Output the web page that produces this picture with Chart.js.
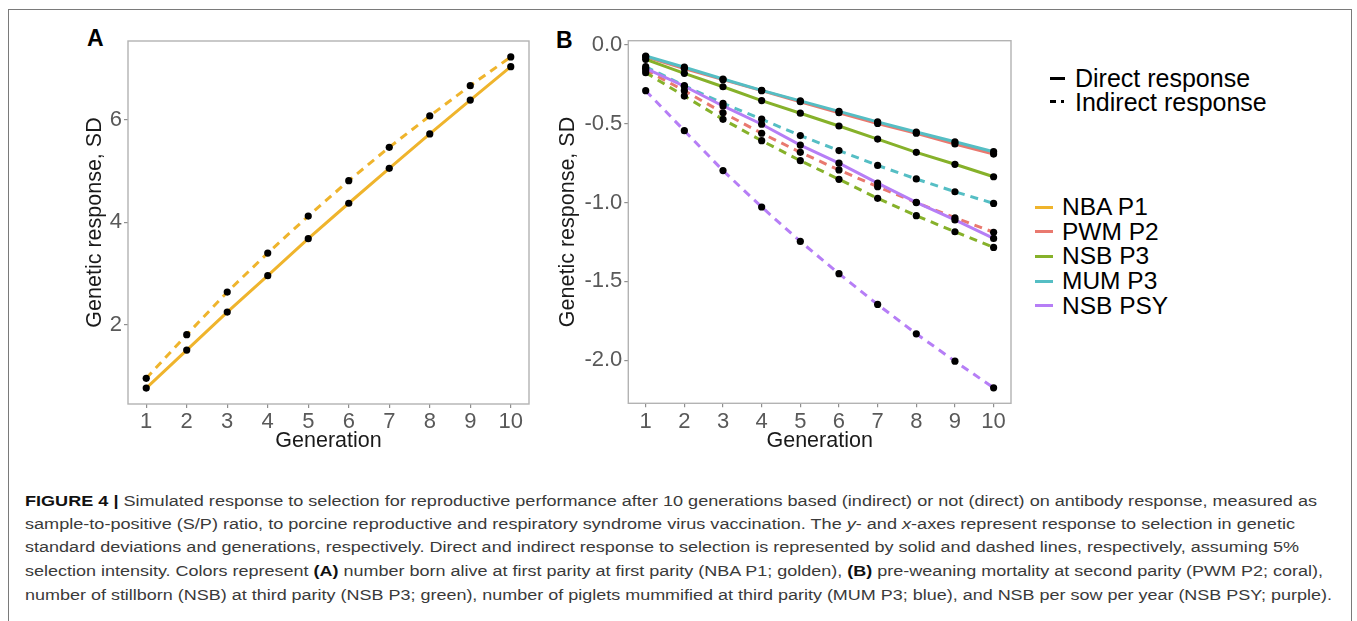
<!DOCTYPE html>
<html>
<head>
<meta charset="utf-8">
<script src="https://cdn.jsdelivr.net/npm/chart.js@4.4.0/dist/chart.umd.min.js"></script>
<style>
  html, body { margin: 0; padding: 0; background: #fff; }
  body { width: 1357px; height: 621px; overflow: hidden; position: relative;
         font-family: "Liberation Sans", Arial, Helvetica, sans-serif; }
  #frame { position: absolute; left: 8px; top: 9px; width: 1344px; height: 660px;
           border: 1px solid #7a7a7a; box-sizing: border-box; }
  canvas { position: absolute; }
  .plabel { position: absolute; font-weight: bold; font-size: 23px; line-height: 26px; color: #000; }
  .lt { position: absolute; font-size: 25px; line-height: 26px; color: #000; white-space: nowrap; }
  .lc { position: absolute; font-size: 24.5px; line-height: 26px; color: #000; white-space: nowrap; }
  .sw { position: absolute; height: 3px; }
  .cap { position: absolute; left: 25px; font-size: 15.5px; line-height: 20px; color: #3a3a3a;
         white-space: nowrap; transform-origin: 0 50%; }
  .cap b { color: #111; }
</style>
</head>
<body>
<div id="frame"></div>

<div class="plabel" style="left:87px; top:25px;">A</div>
<div class="plabel" style="left:556px; top:27px;">B</div>

<canvas id="chartA" width="540" height="470" style="left:0px; top:0px;"></canvas>
<canvas id="chartB" width="490" height="470" style="left:540px; top:0px;"></canvas>

<div id="legendType"></div>
<div id="legendColor"></div>

<div class="cap" data-w="1292" style="top:491px;"><b>FIGURE 4 |</b> Simulated response to selection for reproductive performance after 10 generations based (indirect) or not (direct) on antibody response, measured as</div>
<div class="cap" data-w="1270" style="top:514px;">sample-to-positive (S/P) ratio, to porcine reproductive and respiratory syndrome virus vaccination. The <i>y</i>- and <i>x</i>-axes represent response to selection in genetic</div>
<div class="cap" data-w="1274" style="top:537px;">standard deviations and generations, respectively. Direct and indirect response to selection is represented by solid and dashed lines, respectively, assuming 5%</div>
<div class="cap" data-w="1298" style="top:561px;">selection intensity. Colors represent <b>(A)</b> number born alive at first parity at first parity (NBA P1; golden), <b>(B)</b> pre-weaning mortality at second parity (PWM P2; coral),</div>
<div class="cap" data-w="1307" style="top:585px;">number of stillborn (NSB) at third parity (NSB P3; green), number of piglets mummified at third parity (MUM P3; blue), and NSB per sow per year (NSB PSY; purple).</div>

<script>
// ---------------- DATA ----------------
const generations = [1, 2, 3, 4, 5, 6, 7, 8, 9, 10];

// Panel A
const nbaP1Direct   = [0.77, 1.51, 2.25, 2.96, 3.68, 4.37, 5.05, 5.72, 6.38, 7.03];
const nbaP1Indirect = [0.96, 1.81, 2.64, 3.40, 4.12, 4.81, 5.46, 6.07, 6.66, 7.22];

// Panel B
const pwmP2Direct    = [-0.075, -0.150, -0.220, -0.290, -0.360, -0.430, -0.498, -0.560, -0.628, -0.692];
const pwmP2Indirect  = [-0.159, -0.290, -0.430, -0.560, -0.681, -0.793, -0.899, -1.000, -1.096, -1.188];
const nsbP3Direct    = [-0.091, -0.180, -0.265, -0.353, -0.433, -0.514, -0.597, -0.681, -0.757, -0.836];
const nsbP3Indirect  = [-0.176, -0.324, -0.472, -0.607, -0.734, -0.852, -0.973, -1.083, -1.185, -1.284];
const mumP3Direct    = [-0.070, -0.141, -0.216, -0.288, -0.355, -0.421, -0.488, -0.552, -0.614, -0.677];
const mumP3Indirect  = [-0.138, -0.258, -0.370, -0.471, -0.575, -0.670, -0.764, -0.850, -0.931, -1.005];
const nsbPsyDirect   = [-0.148, -0.262, -0.387, -0.503, -0.635, -0.750, -0.876, -0.998, -1.110, -1.227];
const nsbPsyIndirect = [-0.290, -0.544, -0.797, -1.028, -1.246, -1.451, -1.646, -1.832, -2.006, -2.175];

// Ticks
const xTicks  = [1, 2, 3, 4, 5, 6, 7, 8, 9, 10];
const yTicksA = [2, 4, 6];
const yTicksB = [0, -0.5, -1.0, -1.5, -2.0];

// Legend labels
const traitLabels = ['NBA P1', 'PWM P2', 'NSB P3', 'MUM P3', 'NSB PSY'];
const responseLabels = ['Direct response', 'Indirect response'];

// ---------------- STYLE ----------------
const COLORS = {
  'NBA P1': '#EFB42C',
  'PWM P2': '#E9796F',
  'NSB P3': '#86B12A',
  'MUM P3': '#55BEC4',
  'NSB PSY': '#B67EF6'
};
const FONT = '"Liberation Sans", Arial, Helvetica, sans-serif';
Chart.defaults.font.family = FONT;

function pts(arr) { return generations.map((g, i) => ({ x: g, y: arr[i] })); }

const panelBorder = {
  id: 'panelBorder',
  afterDraw(chart) {
    const { ctx, chartArea: a } = chart;
    ctx.save();
    ctx.strokeStyle = '#b3b3b3';
    ctx.lineWidth = 1.4;
    ctx.strokeRect(a.left, a.top, a.right - a.left, a.bottom - a.top);
    ctx.restore();
  }
};

function buildDatasets(series) {
  const ds = [];
  series.forEach((s, k) => {
    ds.push({
      data: pts(s.data),
      borderColor: COLORS[s.name],
      borderWidth: 3,
      borderDash: s.dashed ? [8, 6] : [],
      borderCapStyle: 'butt',
      pointRadius: 0,
      fill: false,
      tension: 0,
      order: 100 - k
    });
  });
  series.forEach((s) => {
    ds.push({
      data: pts(s.data),
      showLine: false,
      pointRadius: 3.6,
      pointBorderWidth: 0,
      pointBackgroundColor: '#000',
      pointBorderColor: '#000',
      order: 0
    });
  });
  return ds;
}

function makeOptions(geom, yMin, yMax, yTicks, yFmt) {
  const TITLE = 21.5;
  const half = TITLE * 1.2 / 2;
  const padLeft = geom.yTitleX - half;
  const padBottom = geom.h - geom.xTitleY - half;
  return {
    responsive: false,
    animation: false,
    events: [],
    layout: { padding: { left: padLeft, top: geom.top, right: geom.w - geom.right, bottom: padBottom } },
    plugins: { legend: { display: false }, tooltip: { enabled: false } },
    scales: {
      x: {
        type: 'linear', min: 0.55, max: 10.45,
        afterBuildTicks: (s) => { s.ticks = xTicks.map(v => ({ value: v })); },
        afterFit: (s) => { s.height = geom.h - padBottom - geom.bottom; },
        ticks: { font: { size: 22 }, color: '#595959', padding: 1, autoSkip: false, maxRotation: 0,
                 callback: (v) => String(v) },
        grid: { drawOnChartArea: false, drawTicks: true, tickLength: 4, color: '#8f8f8f', lineWidth: 1.2 },
        border: { display: false },
        title: { display: true, text: 'Generation', font: { size: TITLE }, color: '#1a1a1a',
                 padding: { top: 0, bottom: 0 } }
      },
      y: {
        type: 'linear', min: yMin, max: yMax,
        afterBuildTicks: (s) => { s.ticks = yTicks.map(v => ({ value: v })); },
        afterFit: (s) => { s.width = geom.left - padLeft; },
        ticks: { font: { size: 22 }, color: '#595959', padding: 2, callback: yFmt },
        grid: { drawOnChartArea: false, drawTicks: true, tickLength: 4, color: '#8f8f8f', lineWidth: 1.2 },
        border: { display: false },
        title: { display: true, text: 'Genetic response, SD', font: { size: TITLE }, color: '#1a1a1a',
                 padding: { top: 0, bottom: 0 } }
      }
    }
  };
}

// Panel A
new Chart(document.getElementById('chartA'), {
  type: 'line',
  data: {
    datasets: buildDatasets([
      { name: 'NBA P1', data: nbaP1Direct, dashed: false },
      { name: 'NBA P1', data: nbaP1Indirect, dashed: true }
    ])
  },
  options: makeOptions({ w: 540, h: 470, left: 128, top: 41, right: 529, bottom: 404, yTitleX: 95, xTitleY: 441 },
                       0.46, 7.53, yTicksA, (v) => String(v)),
  plugins: [panelBorder]
});

// Panel B
new Chart(document.getElementById('chartB'), {
  type: 'line',
  data: {
    datasets: buildDatasets([
      { name: 'PWM P2', data: pwmP2Direct, dashed: false },
      { name: 'PWM P2', data: pwmP2Indirect, dashed: true },
      { name: 'NSB P3', data: nsbP3Direct, dashed: false },
      { name: 'NSB P3', data: nsbP3Indirect, dashed: true },
      { name: 'MUM P3', data: mumP3Direct, dashed: false },
      { name: 'MUM P3', data: mumP3Indirect, dashed: true },
      { name: 'NSB PSY', data: nsbPsyDirect, dashed: false },
      { name: 'NSB PSY', data: nsbPsyIndirect, dashed: true }
    ])
  },
  options: makeOptions({ w: 490, h: 470, left: 88.3, top: 40.7, right: 471, bottom: 403.3, yTitleX: 28, xTitleY: 441 },
                       -2.273, 0.027, yTicksB, (v) => Number(v).toFixed(1)),
  plugins: [panelBorder]
});

// ---------------- LEGENDS (HTML) ----------------
(function () {
  const lt = document.getElementById('legendType');
  const ys = [78, 101.5];
  responseLabels.forEach((lab, i) => {
    const y = ys[i];
    if (i === 0) {
      const d = document.createElement('div');
      d.className = 'sw'; d.style.cssText = `left:1050px; top:${y - 1.5}px; width:15px; background:#000;`;
      lt.appendChild(d);
    } else {
      const d1 = document.createElement('div');
      d1.className = 'sw'; d1.style.cssText = `left:1050px; top:${y - 1.5}px; width:6px; background:#000;`;
      const d2 = document.createElement('div');
      d2.className = 'sw'; d2.style.cssText = `left:1061px; top:${y - 1.5}px; width:3px; background:#000;`;
      lt.appendChild(d1); lt.appendChild(d2);
    }
    const t = document.createElement('div');
    t.className = 'lt'; t.textContent = lab;
    t.style.left = '1075px'; t.style.top = (y - 13) + 'px';
    lt.appendChild(t);
  });

  const lc = document.getElementById('legendColor');
  traitLabels.forEach((lab, i) => {
    const y = 207 + i * 24.7;
    const s = document.createElement('div');
    s.className = 'sw'; s.style.cssText = `left:1035px; top:${y - 1.5}px; width:18px; background:${COLORS[lab]};`;
    lc.appendChild(s);
    const t = document.createElement('div');
    t.className = 'lc'; t.textContent = lab;
    t.style.left = '1062px'; t.style.top = (y - 13) + 'px';
    lc.appendChild(t);
  });
})();

// ---------------- CAPTION FIT ----------------
function fitCaption() {
  document.querySelectorAll('.cap').forEach(el => {
    el.style.transform = 'none';
    const w = el.getBoundingClientRect().width;
    const target = +el.dataset.w;
    if (w > 0) el.style.transform = `scaleX(${target / w})`;
  });
}
fitCaption();
if (document.fonts && document.fonts.ready) document.fonts.ready.then(fitCaption);
</script>
</body>
</html>
